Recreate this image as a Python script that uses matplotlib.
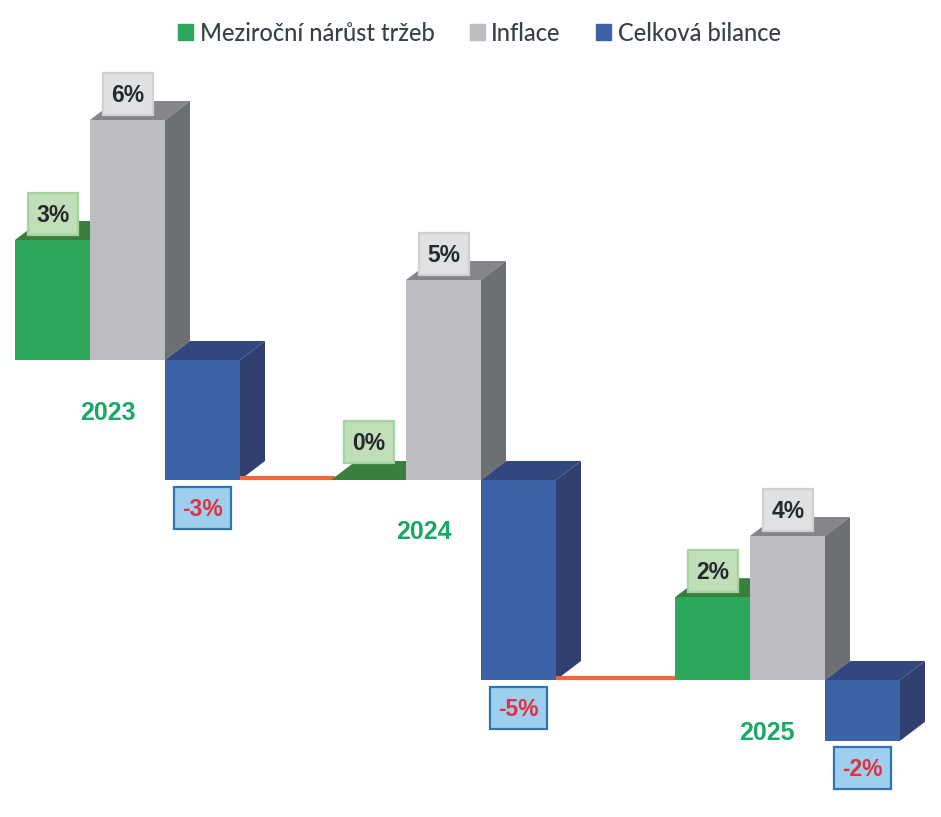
import matplotlib
matplotlib.use('Agg')
from matplotlib import pyplot as plt
from matplotlib.patches import Patch, Rectangle

# Data
years = ['2023', '2024', '2025']
growth = [3, 0, 2]
inflation = [6, 5, 4]
balance = [-3, -5, -2]
# the bars are not quite to scale in 2025, so heights are read separately
growth_height = [3, 0, 2.07]
inflation_height = [6, 5, 3.6]
balance_height = [-3, -5, -1.52]
legend_labels = ['Meziroční nárůst tržeb', 'Inflace', 'Celková bilance']

# Layout
group_x = [15, 331, 675]
year_x = [108, 424, 767]
year_offset = [-1.27, -1.25, -1.28]
growth_label_offset = [0.66, 0.95, 0.66]
bar_w = 75
depth_x = 25
depth_y = 0.475

GREEN = ('#2ca85a', '#3b7f3f', '#2f8a4c')
GREY = ('#bdbcc0', '#86868a', '#6d7073')
BLUE = ('#3c63a8', '#33477f', '#303f6e')

fig = plt.figure(figsize=(9.41, 8.17), dpi=100)
ax = fig.add_axes([0, 0, 1, 1])
ax.set_xlim(0, 941)
ax.set_ylim(-11.425, 9)
ax.axis('off')


def draw_box(x, base, h, colors):
    front, top, side = colors
    y_top = base + max(h, 0)
    y_low = base + min(h, 0)
    ax.fill([x, x + depth_x, x + bar_w + depth_x, x + bar_w],
            [y_top, y_top + depth_y, y_top + depth_y, y_top], color=top, lw=0)
    ax.fill([x + bar_w, x + bar_w + depth_x, x + bar_w + depth_x, x + bar_w],
            [y_top, y_top + depth_y, y_low + depth_y, y_low], color=side, lw=0)
    ax.bar(x, h, bar_w, bottom=base, align='edge', color=front, lw=0)


def draw_label(cx, cy, w, text, fill, edge, color):
    ax.add_patch(Rectangle((cx - w / 2, cy - 0.525), w, 1.05, facecolor=fill,
                           edgecolor=edge, lw=1.6, zorder=5))
    ax.text(cx, cy - 0.04, text, ha='center', va='center', fontsize=16.5,
            fontweight='bold', family='Liberation Sans', color=color, zorder=6)


base = 0
for i in range(3):
    x = group_x[i]
    draw_box(x, base, growth_height[i], GREEN)
    draw_box(x + bar_w, base, inflation_height[i], GREY)
    draw_box(x + 2 * bar_w, base, balance_height[i], BLUE)

    draw_label(x + 38, base + growth_height[i] + growth_label_offset[i], 50,
               f'{growth[i]}%', '#c0deb8', '#a3d69c', '#26292b')
    draw_label(x + bar_w + 38, base + inflation_height[i] + 0.66, 50,
               f'{inflation[i]}%', '#e0e1e3', '#cfd0d2', '#26292b')
    draw_label(x + 2.5 * bar_w, base + balance_height[i] - 0.69, 57,
               f'{balance[i]}%', '#9fcfee', '#2f75b5', '#e0303f')

    ax.text(year_x[i], base + year_offset[i] - 0.05, years[i], ha='center', va='center',
            fontsize=18, fontweight='bold', family='Liberation Sans', color='#1aa866')

    # connector to the next year
    if i < 2:
        next_base = base + balance[i]
        ax.plot([x + 3 * bar_w, group_x[i + 1] + 4], [next_base + 0.04, next_base + 0.04],
                color='#f0673e', lw=3, solid_capstyle='butt', zorder=1)
    base += balance[i]

handles = [Patch(color=GREEN[0]), Patch(color=GREY[0]), Patch(color=BLUE[0])]
fig.legend(handles, legend_labels, ncol=3, frameon=False, loc='center',
           bbox_to_anchor=(0.5095, 0.9595), prop={'family': 'Lato', 'size': 17, 'weight': 'medium'},
           labelcolor='#3a4048', handlelength=0.64, handleheight=0.64,
           handletextpad=0.27, columnspacing=1.5)

fig.savefig('out.png', dpi=100)
